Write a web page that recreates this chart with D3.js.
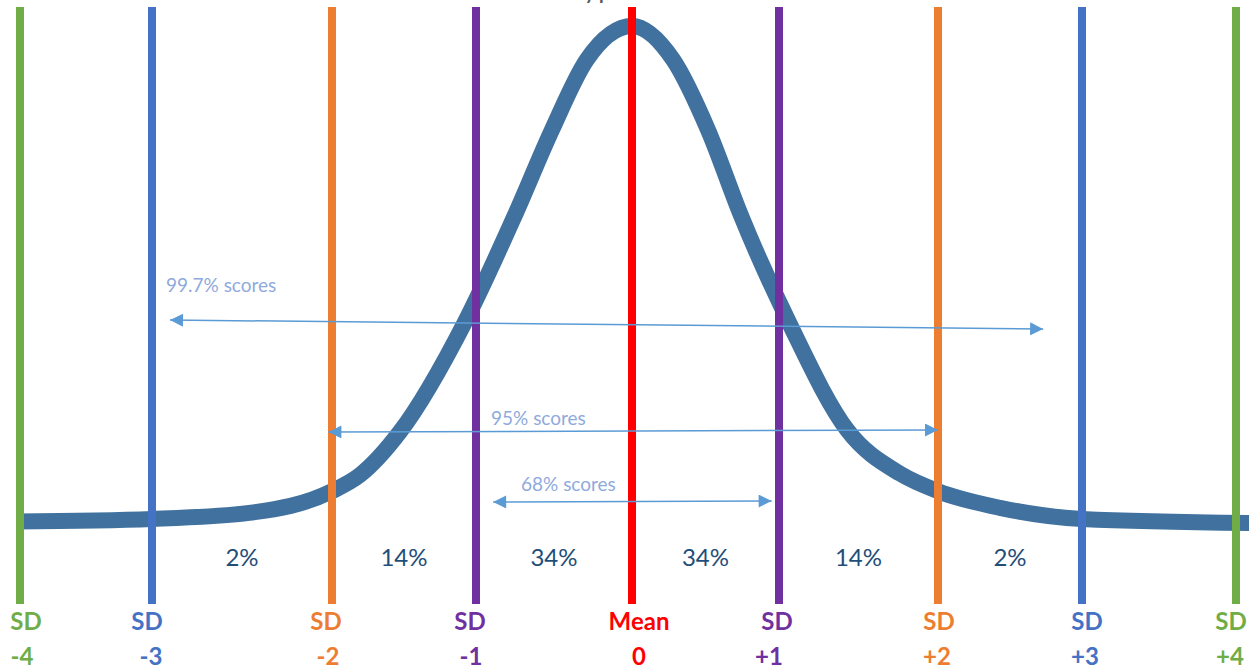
<!DOCTYPE html>
<html>
<head>
<meta charset="utf-8">
<script src="https://cdn.jsdelivr.net/npm/d3@7"></script>
<style>
  html, body { margin: 0; padding: 0; background: #ffffff; }
  svg { display: block; }
</style>
</head>
<body>
<svg id="chart" width="1249" height="670"></svg>
<script>
// ---------------- data ----------------
const sdValues   = [-4, -3, -2, -1, 0, 1, 2, 3, 4];
const sdTopLabels = ["SD", "SD", "SD", "SD", "Mean", "SD", "SD", "SD", "SD"];
const sdBottomLabels = ["-4", "-3", "-2", "-1", "0", "+1", "+2", "+3", "+4"];
const sdColors = ["#70AD47", "#4472C4", "#ED7D31", "#7030A0", "#FF0000", "#7030A0", "#ED7D31", "#4472C4", "#70AD47"];

// curve: position in SD units and relative height (peak = 1)
const curveSD     = [-4.03, -3.0, -2.46, -2.0, -1.806, -1.53, -1.076, -0.75, -0.513, -0.29, 0, 0.28, 0.517, 0.74, 1.07, 1.43, 1.76, 2.0, 2.43, 3.0, 4.1];
const curveHeight = [0.017, 0.022, 0.034, 0.077, 0.109, 0.194, 0.413, 0.625, 0.794, 0.933, 1, 0.933, 0.794, 0.625, 0.407, 0.198, 0.112, 0.077, 0.044, 0.022, 0.014];

// band percentages, centred between consecutive SD lines
const bandMid    = [-2.5, -1.5, -0.5, 0.5, 1.5, 2.5];
const bandLabels = ["2%", "14%", "34%", "34%", "14%", "2%"];

// range arrows (SD units)
const arrowLabels = ["99.7% scores", "95% scores", "68% scores"];
const arrowFrom   = [-2.9, -2.02, -0.89];
const arrowTo     = [2.73, 2.0, 0.95];

const titleText = "Normal Curve by percent";
const titleBefore = "Normal Curve b";

// ---------------- layout ----------------
const W = 1249, H = 670;
const lineTop = 7, lineBottom = 604;
const arrowLayout = [
  { y1: 320, y2: 329, lx: 166, ly: 292 },
  { y1: 432, y2: 430, lx: 491, ly: 425 },
  { y1: 502, y2: 501, lx: 521, ly: 491 }
];
// small horizontal nudges of the bottom labels relative to their lines
const topDx = [6, -5, -6, -6, 7, -2, 1, 5, -5];
const botDx = [2, -1, -4, -5, 7, -10, -1, 3, -6];

const svg = d3.select("#chart");

const x = d3.scaleLinear()
  .domain(sdValues)
  .range([20, 152, 332, 476, 632, 779, 938, 1082, 1236]);
const y = d3.scaleLinear().domain([0, 1]).range([530, 26]);

const fontFam = "Lato, 'Open Sans', 'Liberation Sans', sans-serif";

// clipped title (only descenders visible at top edge)
const title = svg.append("text")
  .attr("y", 0)
  .attr("font-family", fontFam).attr("font-weight", 700)
  .attr("font-size", 19).attr("fill", "#595959")
  .text(titleBefore);
const wBefore = title.node().getComputedTextLength();
title.attr("x", 585 - wBefore).text(titleText);

// curve
const pts = curveSD.map((s, i) => [s, curveHeight[i]]);
const line = d3.line()
  .x(d => x(d[0]))
  .y(d => y(d[1]))
  .curve(d3.curveMonotoneX);
svg.append("path")
  .attr("d", line(pts))
  .attr("fill", "none")
  .attr("stroke", "#41729F")
  .attr("stroke-width", 16);

// vertical SD lines (on top of curve)
svg.append("g").selectAll("line")
  .data(sdValues)
  .join("line")
  .attr("x1", d => x(d)).attr("x2", d => x(d))
  .attr("y1", lineTop).attr("y2", lineBottom)
  .attr("stroke", (d, i) => sdColors[i])
  .attr("stroke-width", 8);

// band percentages
svg.append("g").selectAll("text")
  .data(bandMid)
  .join("text")
  .attr("x", d => x(d)).attr("y", 566)
  .attr("text-anchor", "middle")
  .attr("font-family", fontFam)
  .attr("font-size", 24)
  .attr("fill", "#1F4E79")
  .text((d, i) => bandLabels[i]);

// arrows
const defs = svg.append("defs");
defs.append("marker")
  .attr("id", "ah")
  .attr("viewBox", "0 0 10 10")
  .attr("refX", 10).attr("refY", 5)
  .attr("markerWidth", 15).attr("markerHeight", 13)
  .attr("markerUnits", "userSpaceOnUse")
  .attr("orient", "auto-start-reverse")
  .append("path")
  .attr("d", "M0,0 L10,5 L0,10 Z")
  .attr("fill", "#5B9BD5");

const ag = svg.append("g");
arrowLabels.forEach((lab, i) => {
  const L = arrowLayout[i];
  ag.append("line")
    .attr("x1", x(arrowFrom[i])).attr("y1", L.y1)
    .attr("x2", x(arrowTo[i])).attr("y2", L.y2)
    .attr("stroke", "#5B9BD5").attr("stroke-width", 1.5)
    .attr("marker-start", "url(#ah)")
    .attr("marker-end", "url(#ah)");
  ag.append("text")
    .attr("x", L.lx).attr("y", L.ly)
    .attr("font-family", fontFam)
    .attr("font-size", 19)
    .attr("fill", "#8FAADC")
    .text(lab);
});

// bottom labels
const lg = svg.append("g");
lg.selectAll("text.top")
  .data(sdValues)
  .join("text")
  .attr("class", "top")
  .attr("x", (d, i) => x(d) + topDx[i]).attr("y", 630)
  .attr("text-anchor", "middle")
  .attr("font-family", fontFam).attr("font-weight", 700)
  .attr("font-size", 24)
  .attr("fill", (d, i) => sdColors[i])
  .text((d, i) => sdTopLabels[i]);
lg.selectAll("text.bot")
  .data(sdValues)
  .join("text")
  .attr("class", "bot")
  .attr("x", (d, i) => x(d) + botDx[i]).attr("y", 665)
  .attr("text-anchor", "middle")
  .attr("font-family", fontFam).attr("font-weight", 700)
  .attr("font-size", 24)
  .attr("fill", (d, i) => sdColors[i])
  .text((d, i) => sdBottomLabels[i]);
</script>
</body>
</html>
